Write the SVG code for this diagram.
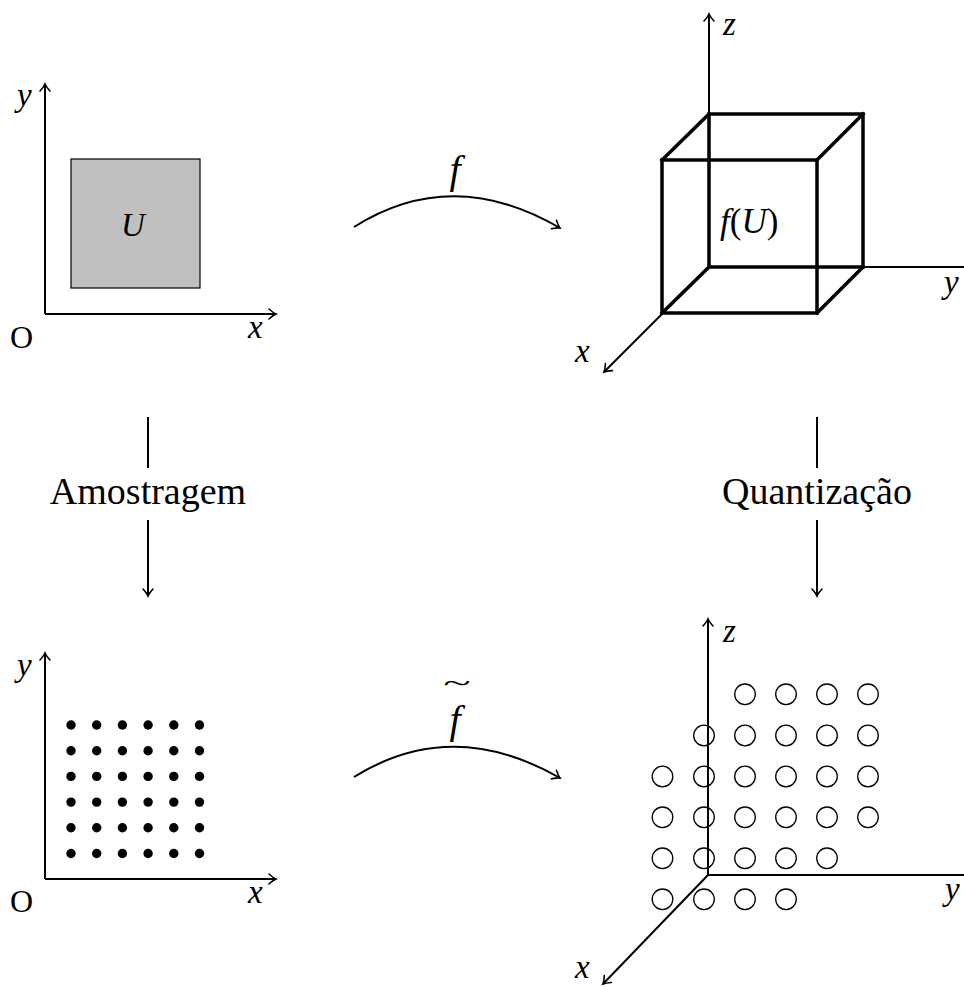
<svg xmlns="http://www.w3.org/2000/svg" width="964" height="987" viewBox="0 0 964 987">
<style>
.ax{stroke:#000;stroke-width:2;fill:none}
.cube{stroke:#000;stroke-width:3.5;fill:none;stroke-linecap:square}
.m{font-family:"Liberation Serif","DejaVu Serif",serif;font-style:italic;fill:#000}
.t{font-family:"Liberation Serif","DejaVu Serif",serif;fill:#000}
.up{font-style:normal}
.dot{fill:#000}
.ring{fill:none;stroke:#000;stroke-width:1.3}
</style>
<defs>
<marker id="arr" markerUnits="userSpaceOnUse" viewBox="-10 -7 12 14" refX="0" refY="0" markerWidth="12" markerHeight="14" orient="auto" overflow="visible">
<path d="M-7,-5 Q-2.5,-1 0,0 Q-2.5,1 -7,5" fill="none" stroke="#000" stroke-width="1.6" stroke-linecap="round"/>
</marker>
</defs>
<rect width="964" height="987" fill="#fff"/>

<g id="domain">
<line class="ax" x1="45" y1="314" x2="45" y2="84" marker-end="url(#arr)"/>
<line class="ax" x1="45" y1="314" x2="276" y2="314" marker-end="url(#arr)"/>
<rect x="71" y="159" width="129" height="129" fill="#c0c0c0" stroke="#000" stroke-width="1.2"/>
<text class="m" x="133" y="236" font-size="33" text-anchor="middle">U</text>
<text class="m" x="17" y="106" font-size="33">y</text>
<text class="m" x="248" y="338" font-size="33">x</text>
<text class="t" x="10" y="348" font-size="32">O</text>
</g>

<g id="image">
<line class="ax" x1="709" y1="267" x2="709" y2="14" marker-end="url(#arr)"/>
<line class="ax" x1="709" y1="267" x2="966" y2="267"/>
<line class="ax" x1="709" y1="267" x2="604" y2="372" marker-end="url(#arr)"/>
<rect class="cube" x="709" y="114" width="154" height="153"/>
<rect class="cube" x="662" y="160" width="155" height="153"/>
<line class="cube" x1="709" y1="114" x2="662" y2="160"/>
<line class="cube" x1="863" y1="114" x2="817" y2="160"/>
<line class="cube" x1="863" y1="267" x2="817" y2="313"/>
<line class="cube" x1="709" y1="267" x2="662" y2="313"/>
<text class="m" x="723" y="35" font-size="33">z</text>
<text class="m" x="944" y="293" font-size="33">y</text>
<text class="m" x="575" y="362" font-size="33">x</text>
<text class="m" x="720" y="233" font-size="35">f<tspan class="up">(</tspan>U<tspan class="up">)</tspan></text>
</g>

<g id="sampled">
<line class="ax" x1="45" y1="879" x2="45" y2="653" marker-end="url(#arr)"/>
<line class="ax" x1="45" y1="879" x2="276" y2="879" marker-end="url(#arr)"/>
<g class="dot">
<circle cx="71" cy="725" r="4.7"/><circle cx="96.7" cy="725" r="4.7"/><circle cx="122.4" cy="725" r="4.7"/><circle cx="148.1" cy="725" r="4.7"/><circle cx="173.8" cy="725" r="4.7"/><circle cx="199.5" cy="725" r="4.7"/>
<circle cx="71" cy="750.7" r="4.7"/><circle cx="96.7" cy="750.7" r="4.7"/><circle cx="122.4" cy="750.7" r="4.7"/><circle cx="148.1" cy="750.7" r="4.7"/><circle cx="173.8" cy="750.7" r="4.7"/><circle cx="199.5" cy="750.7" r="4.7"/>
<circle cx="71" cy="776.4" r="4.7"/><circle cx="96.7" cy="776.4" r="4.7"/><circle cx="122.4" cy="776.4" r="4.7"/><circle cx="148.1" cy="776.4" r="4.7"/><circle cx="173.8" cy="776.4" r="4.7"/><circle cx="199.5" cy="776.4" r="4.7"/>
<circle cx="71" cy="802.1" r="4.7"/><circle cx="96.7" cy="802.1" r="4.7"/><circle cx="122.4" cy="802.1" r="4.7"/><circle cx="148.1" cy="802.1" r="4.7"/><circle cx="173.8" cy="802.1" r="4.7"/><circle cx="199.5" cy="802.1" r="4.7"/>
<circle cx="71" cy="827.8" r="4.7"/><circle cx="96.7" cy="827.8" r="4.7"/><circle cx="122.4" cy="827.8" r="4.7"/><circle cx="148.1" cy="827.8" r="4.7"/><circle cx="173.8" cy="827.8" r="4.7"/><circle cx="199.5" cy="827.8" r="4.7"/>
<circle cx="71" cy="853.5" r="4.7"/><circle cx="96.7" cy="853.5" r="4.7"/><circle cx="122.4" cy="853.5" r="4.7"/><circle cx="148.1" cy="853.5" r="4.7"/><circle cx="173.8" cy="853.5" r="4.7"/><circle cx="199.5" cy="853.5" r="4.7"/>
</g>
<text class="m" x="17" y="676" font-size="33">y</text>
<text class="m" x="248" y="903" font-size="33">x</text>
<text class="t" x="10" y="912" font-size="32">O</text>
</g>

<g id="quantized">
<line class="ax" x1="708" y1="875" x2="708" y2="619" marker-end="url(#arr)"/>
<line class="ax" x1="708" y1="875" x2="966" y2="875"/>
<line class="ax" x1="708" y1="875" x2="603" y2="984" marker-end="url(#arr)"/>
<g class="ring">
<circle cx="745" cy="694.3" r="10.3"/><circle cx="786" cy="694.3" r="10.3"/><circle cx="827" cy="694.3" r="10.3"/><circle cx="868" cy="694.3" r="10.3"/>
<circle cx="704" cy="735.5" r="10.3"/><circle cx="745" cy="735.5" r="10.3"/><circle cx="786" cy="735.5" r="10.3"/><circle cx="827" cy="735.5" r="10.3"/><circle cx="868" cy="735.5" r="10.3"/>
<circle cx="662.5" cy="776.5" r="10.3"/><circle cx="704" cy="776.5" r="10.3"/><circle cx="745" cy="776.5" r="10.3"/><circle cx="786" cy="776.5" r="10.3"/><circle cx="827" cy="776.5" r="10.3"/><circle cx="868" cy="776.5" r="10.3"/>
<circle cx="662.5" cy="817.3" r="10.3"/><circle cx="704" cy="817.3" r="10.3"/><circle cx="745" cy="817.3" r="10.3"/><circle cx="786" cy="817.3" r="10.3"/><circle cx="827" cy="817.3" r="10.3"/><circle cx="868" cy="817.3" r="10.3"/>
<circle cx="662.5" cy="858.3" r="10.3"/><circle cx="704" cy="858.3" r="10.3"/><circle cx="745" cy="858.3" r="10.3"/><circle cx="786" cy="858.3" r="10.3"/><circle cx="827" cy="858.3" r="10.3"/>
<circle cx="662.5" cy="899.3" r="10.3"/><circle cx="704" cy="899.3" r="10.3"/><circle cx="745" cy="899.3" r="10.3"/><circle cx="786" cy="899.3" r="10.3"/>
</g>
<text class="m" x="723" y="642" font-size="33">z</text>
<text class="m" x="945" y="900" font-size="33">y</text>
<text class="m" x="575" y="978" font-size="33">x</text>
</g>

<g id="connectors">
<path class="ax" d="M354,227 Q452,165 560,228" marker-end="url(#arr)"/>
<text class="m" x="455" y="183" font-size="40" text-anchor="middle">f</text>
<path class="ax" d="M354,777 Q452,716 560,778" marker-end="url(#arr)"/>
<text class="m" x="455" y="733" font-size="40" text-anchor="middle">f</text>
<text class="t" x="0" y="0" font-size="22" text-anchor="middle" transform="translate(457,692) scale(2.3,1.2)">~</text>
<line class="ax" x1="148" y1="417" x2="148" y2="468" stroke-width="1.6"/>
<line class="ax" x1="148" y1="520" x2="148" y2="596" stroke-width="1.6" marker-end="url(#arr)"/>
<text class="t" x="148" y="504" font-size="38" text-anchor="middle">Amostragem</text>
<line class="ax" x1="817" y1="417" x2="817" y2="468" stroke-width="1.6"/>
<line class="ax" x1="817" y1="520" x2="817" y2="596" stroke-width="1.6" marker-end="url(#arr)"/>
<text class="t" x="817" y="504" font-size="38" text-anchor="middle">Quantização</text>
</g>
</svg>
